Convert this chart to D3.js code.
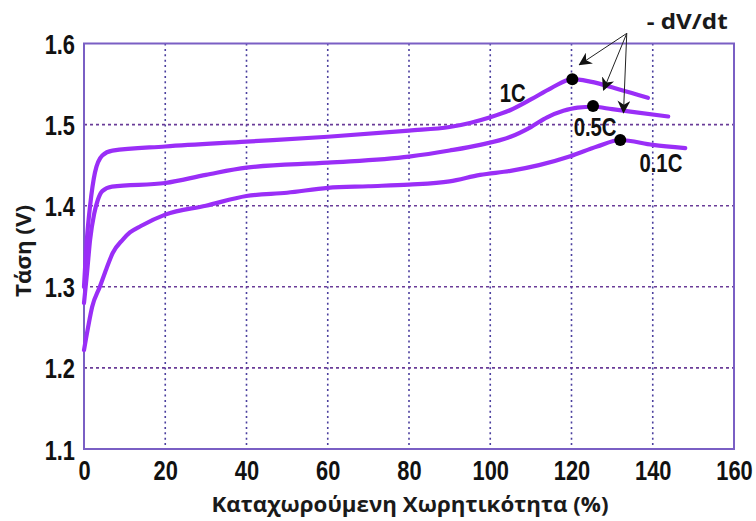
<!DOCTYPE html>
<html>
<head>
<meta charset="utf-8">
<script src="https://cdn.jsdelivr.net/npm/d3@7"></script>
<style>
  html, body { margin: 0; padding: 0; background: #ffffff; }
  svg { display: block; }
  .tick-label { font-family: "Liberation Sans", Arial, sans-serif; font-weight: bold; fill: #111; }
  .title { font-family: "Open Sans", "Noto Sans", "DejaVu Sans", sans-serif; font-weight: 700; fill: #1a1a1a; }
</style>
</head>
<body>
<svg id="chart" width="756" height="521"></svg>
<script>
// ---------- data ----------
const xTicks = [0, 20, 40, 60, 80, 100, 120, 140, 160];
const yTicks = [1.1, 1.2, 1.3, 1.4, 1.5, 1.6];
const xTitle = "Καταχωρούμενη Χωρητικότητα (%)";
const yTitle = "Τάση (V)";

const seriesNames = ["1C", "0.5C", "0.1C"];

const capacity1C = [0, 0.7, 1.5, 2.7, 4.5, 7, 20, 40, 60, 80, 90, 95, 100, 105, 110, 115, 120.2, 124.6, 132, 138.8];
const voltage1C  = [1.30, 1.358, 1.40, 1.441, 1.462, 1.468, 1.473, 1.479, 1.485, 1.4926, 1.497, 1.502, 1.509, 1.518, 1.531, 1.545, 1.556, 1.553, 1.543, 1.533];

const capacity05C = [0, 0.8, 1.5, 2.5, 3.4, 4.5, 6.9, 20, 30, 40, 60, 80, 90, 97.5, 105, 110, 114, 118, 121.5, 125.3, 130, 134.5, 143.8];
const voltage05C  = [1.28, 1.32, 1.358, 1.39, 1.407, 1.418, 1.4235, 1.428, 1.438, 1.447, 1.453, 1.4605, 1.468, 1.475, 1.485, 1.497, 1.509, 1.517, 1.521, 1.522, 1.519, 1.516, 1.51];

const capacity01C = [0, 1, 2, 3.9, 5.5, 7.1, 9.5, 11.3, 14, 20, 30, 40, 50, 60, 70, 80, 90, 97.5, 105, 112, 119.7, 126.3, 132, 140, 148];
const voltage01C  = [1.222, 1.25, 1.275, 1.30, 1.322, 1.342, 1.358, 1.367, 1.375, 1.389, 1.40, 1.412, 1.416, 1.422, 1.424, 1.426, 1.430, 1.438, 1.443, 1.450, 1.461, 1.473, 1.481, 1.475, 1.471];

// -dV/dt points (peaks)
const peakCapacity = [120.2, 125.3, 132];
const peakVoltage  = [1.556, 1.523, 1.481];

// curve labels (data coords)
const labelCapacity = [105.5, 125.8, 142];
const labelVoltage  = [1.539, 1.498, 1.453];

// annotation arrows (data coords)
const annotText = "- dV/dt";
const arrowFrom = [133.6, 1.6125];
const arrowToCapacity = [122.0, 127.9, 132.8];
const arrowToVoltage  = [1.574, 1.543, 1.515];
const annotTextPos = [138.5, 1.627];

// ---------- layout ----------
const svg = d3.select("#chart");
const pLeft = 84, pRight = 734, pTop = 43.5, pBottom = 449;
const narrow = 0.78;

const x = d3.scaleLinear().domain([0, 160]).range([pLeft, pRight]);
const y = d3.scaleLinear().domain([1.1, 1.6]).range([pBottom, pTop]);

// grid
const grid = svg.append("g");
grid.selectAll(".vg").data(xTicks.slice(1, -1)).join("line")
  .attr("x1", d => x(d)).attr("x2", d => x(d))
  .attr("y1", pTop).attr("y2", pBottom)
  .attr("stroke", "#4b3f9e").attr("stroke-width", 1.6)
  .attr("stroke-dasharray", "2,3.4");
grid.selectAll(".hg").data(yTicks.slice(1, -1)).join("line")
  .attr("y1", d => y(d)).attr("y2", d => y(d))
  .attr("x1", pLeft).attr("x2", pRight)
  .attr("stroke", "#6a3c98").attr("stroke-width", 1.6)
  .attr("stroke-dasharray", "3,3");

// border
svg.append("rect")
  .attr("x", pLeft).attr("y", pTop)
  .attr("width", pRight - pLeft).attr("height", pBottom - pTop)
  .attr("fill", "none").attr("stroke", "#7a5fc4").attr("stroke-width", 2);

// axes labels
const xAxis = d3.axisBottom(x).tickValues(xTicks).tickSize(0).tickFormat(d3.format("d"));
const gx = svg.append("g").attr("transform", `translate(0,${pBottom})`).call(xAxis);
gx.select(".domain").remove();
gx.selectAll("text").attr("class", "tick-label").attr("font-size", 28)
  .attr("dy", null).attr("y", 31).attr("transform", `scale(${narrow},1)`);

const yAxis = d3.axisLeft(y).tickValues(yTicks).tickSize(0).tickFormat(d3.format(".1f"));
const gy = svg.append("g").attr("transform", `translate(${pLeft},0)`).call(yAxis);
gy.select(".domain").remove();
gy.selectAll("text").attr("class", "tick-label").attr("font-size", 28)
  .attr("x", -9 / narrow).attr("dy", "0.36em").attr("transform", `scale(${narrow},1)`);

// titles
svg.append("text").attr("class", "title")
  .attr("x", 410).attr("y", 512).attr("text-anchor", "middle")
  .attr("font-size", 21).attr("textLength", 397).attr("lengthAdjust", "spacingAndGlyphs")
  .text(xTitle);
svg.append("text").attr("class", "title")
  .attr("transform", "translate(31,251) rotate(-90)")
  .attr("text-anchor", "middle").attr("font-size", 21)
  .attr("textLength", 92).attr("lengthAdjust", "spacingAndGlyphs").text(yTitle);

// curves
const line = d3.line().x(d => x(d[0])).y(d => y(d[1])).curve(d3.curveMonotoneX);
const series = [
  d3.zip(capacity1C, voltage1C),
  d3.zip(capacity05C, voltage05C),
  d3.zip(capacity01C, voltage01C)
];
svg.append("g").selectAll("path").data(series).join("path")
  .attr("d", line).attr("fill", "none")
  .attr("stroke", "#9a2ef7").attr("stroke-width", 4.2)
  .attr("stroke-linejoin", "round").attr("stroke-linecap", "round");

// peak dots
svg.append("g").selectAll("circle").data(d3.zip(peakCapacity, peakVoltage)).join("circle")
  .attr("cx", d => x(d[0])).attr("cy", d => y(d[1])).attr("r", 6).attr("fill", "#000");

// curve labels
svg.append("g").selectAll("text").data(d3.zip(labelCapacity, labelVoltage, seriesNames)).join("text")
  .attr("class", "tick-label")
  .attr("transform", d => `translate(${x(d[0])},${y(d[1])}) scale(${narrow},1)`)
  .attr("text-anchor", "middle").attr("dy", "0.36em")
  .attr("font-size", 26).attr("fill", "#222").text(d => d[2]);

// arrows
const defs = svg.append("defs");
defs.append("marker").attr("id", "arr").attr("viewBox", "0 0 10 10")
  .attr("refX", 9).attr("refY", 5).attr("markerWidth", 13).attr("markerHeight", 13)
  .attr("markerUnits", "userSpaceOnUse").attr("orient", "auto")
  .append("path").attr("d", "M0,0 L10,5 L0,10 L3,5 Z").attr("fill", "#111");

svg.append("g").selectAll("line").data(d3.zip(arrowToCapacity, arrowToVoltage)).join("line")
  .attr("x1", x(arrowFrom[0])).attr("y1", y(arrowFrom[1]))
  .attr("x2", d => x(d[0])).attr("y2", d => y(d[1]))
  .attr("stroke", "#222").attr("stroke-width", 1)
  .attr("marker-end", "url(#arr)");

svg.append("text").attr("class", "title")
  .attr("x", x(annotTextPos[0])).attr("y", y(annotTextPos[1]))
  .attr("dy", "0.36em").attr("font-size", 21).attr("font-weight", 700)
  .attr("textLength", 81).attr("lengthAdjust", "spacingAndGlyphs")
  .attr("fill", "#1a1400").text(annotText);
</script>
</body>
</html>
